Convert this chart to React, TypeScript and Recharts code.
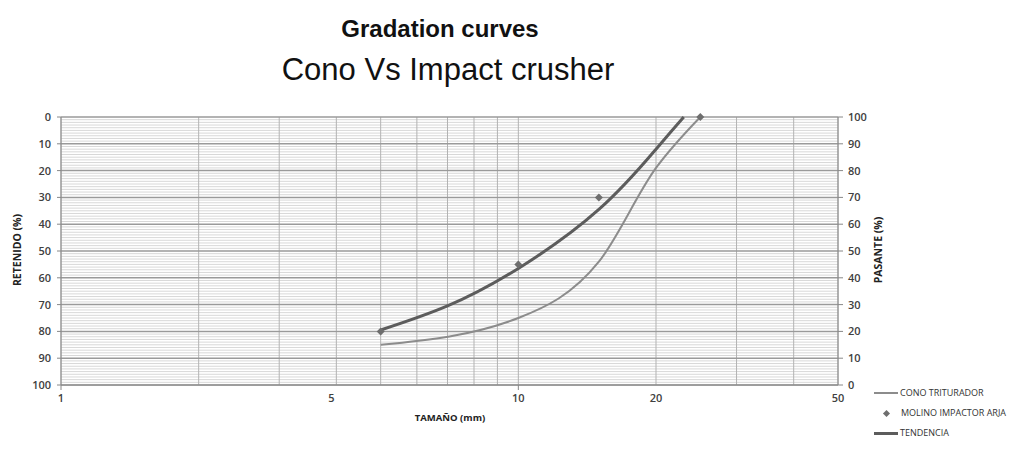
import React from "react";
import {
  ComposedChart,
  Line,
  XAxis,
  YAxis,
  ReferenceLine,
} from "recharts";

// sieve sizes (mm) vs retained (%)
const conoSizes = [5, 10, 15, 20, 25];
const conoRetenido = [85, 75, 54, 19, 0];

const molinoSizes = [5, 10, 15, 25];
const molinoRetenido = [80, 55, 30, 0];

const tendenciaSizes = [5, 7, 10, 15, 20, 23];
const tendenciaRetenido = [79.5, 70.5, 56.5, 34.5, 12, 0];

const xTickValues = [1, 3.9, 10, 20, 50];
const xTickLabels = ["1", "5", "10", "20", "50"];
const xTickMarks = [1, 10];
const xGrid = [1, 2, 3, 4, 5, 6, 7, 8, 9, 10, 20, 30, 40, 50];
const yMajor = [0, 10, 20, 30, 40, 50, 60, 70, 80, 90, 100];
const yMinor = Array.from({ length: 101 }, (_, i) => i).filter((v) => v % 10 !== 0);

const toRows = (xs: number[], ys: number[]) =>
  xs.map((size, i) => ({ size, ret: ys[i] }));

const conoData = toRows(conoSizes, conoRetenido);
const molinoData = toRows(molinoSizes, molinoRetenido);
const tendenciaData = toRows(tendenciaSizes, tendenciaRetenido);

const font = "'Open Sans', 'Liberation Sans', sans-serif";

const XTick = (props: any) => {
  const { x, y, payload } = props;
  const idx = xTickValues.indexOf(payload.value);
  const label = idx >= 0 ? xTickLabels[idx] : "";
  return (
    <g>
      {xTickMarks.includes(payload.value) && (
        <line x1={x} x2={x} y1={y - 8} y2={y - 3} stroke="#888" />
      )}
      <text
        x={x}
        y={y + 9}
        textAnchor="middle"
        fontFamily={font}
        fontSize={11}
        fontWeight={600}
        fill="#404040"
      >
        {label}
      </text>
    </g>
  );
};

const Diamond = (props: any) => {
  const { cx, cy } = props;
  if (cx == null || cy == null) return null;
  const s = 4;
  return (
    <path
      d={`M${cx},${cy - s} L${cx + s},${cy} L${cx},${cy + s} L${cx - s},${cy} Z`}
      fill="#6e6e6e"
    />
  );
};

const axisTitle: React.CSSProperties = {
  transform: "rotate(-90deg)",
  whiteSpace: "nowrap",
  fontFamily: font,
  fontSize: 10.5,
  fontWeight: 700,
  color: "#222",
  lineHeight: "0px",
};

export default function App() {
  const tickStyle = { fontFamily: font, fontSize: 11, fontWeight: 600, fill: "#404040" };
  return (
    <div
      style={{
        position: "absolute",
        left: 0,
        top: 0,
        width: 1024,
        height: 467,
        background: "#fff",
        fontFamily: "'Liberation Sans', Arial, sans-serif",
      }}
    >
      <div
        style={{
          position: "absolute",
          left: 0,
          width: 880,
          top: 17,
          textAlign: "center",
          fontSize: 24,
          lineHeight: 1,
          fontWeight: 700,
          color: "#111",
        }}
      >
        Gradation curves
      </div>
      <div
        style={{
          position: "absolute",
          left: 0,
          width: 896,
          top: 54,
          textAlign: "center",
          fontSize: 31,
          lineHeight: 1,
          color: "#111",
        }}
      >
        Cono Vs Impact crusher
      </div>

      <ComposedChart
        width={1024}
        height={467}
        margin={{ top: 117, right: 146, bottom: 52, left: 21 }}
      >
        <XAxis
          dataKey="size"
          type="number"
          scale="log"
          domain={[1, 50]}
          ticks={xTickValues}
          interval={0}
          allowDataOverflow
          height={30}
          stroke="#888"
          tickLine={false}
          tick={<XTick />}
        />
        <YAxis
          yAxisId="ret"
          dataKey="ret"
          type="number"
          domain={[0, 100]}
          reversed
          ticks={yMajor}
          interval={0}
          width={40}
          stroke="#888"
          tickSize={4}
          tickMargin={6}
          tick={tickStyle}
        />
        <YAxis
          yAxisId="pas"
          orientation="right"
          dataKey="ret"
          type="number"
          domain={[0, 100]}
          allowDataOverflow
          ticks={yMajor}
          interval={0}
          width={40}
          stroke="#888"
          tickSize={5}
          tickMargin={5}
          tick={tickStyle}
        />

        {yMinor.map((v) => (
          <ReferenceLine key={"mn" + v} yAxisId="ret" y={v} stroke="#d8d8d8" strokeWidth={1} />
        ))}
        {xGrid.map((v) => (
          <ReferenceLine key={"vx" + v} yAxisId="ret" x={v} stroke="#b3b3b3" strokeWidth={1} />
        ))}
        {yMajor.map((v) => (
          <ReferenceLine key={"mj" + v} yAxisId="ret" y={v} stroke="#9a9a9a" strokeWidth={1.5} />
        ))}

        {/* keeps the right PASANTE axis alive; draws nothing */}
        <Line
          yAxisId="pas"
          data={conoData}
          dataKey="ret"
          stroke="none"
          dot={false}
          activeDot={false}
          legendType="none"
          isAnimationActive={false}
        />
        <Line
          yAxisId="ret"
          data={conoData}
          dataKey="ret"
          type="monotone"
          stroke="#8c8c8c"
          strokeWidth={2}
          dot={false}
          activeDot={false}
          isAnimationActive={false}
        />
        <Line
          yAxisId="ret"
          data={tendenciaData}
          dataKey="ret"
          type="natural"
          stroke="#5c5c5c"
          strokeWidth={3}
          dot={false}
          activeDot={false}
          isAnimationActive={false}
        />
        <Line
          yAxisId="ret"
          data={molinoData}
          dataKey="ret"
          stroke="none"
          strokeWidth={0}
          dot={<Diamond />}
          activeDot={false}
          isAnimationActive={false}
        />
      </ComposedChart>

      <div
        style={{
          position: "absolute",
          left: 0,
          top: 250,
          width: 34,
          height: 0,
          display: "flex",
          justifyContent: "center",
        }}
      >
        <div style={axisTitle}>RETENIDO (%)</div>
      </div>
      <div
        style={{
          position: "absolute",
          left: 861,
          top: 250,
          width: 34,
          height: 0,
          display: "flex",
          justifyContent: "center",
        }}
      >
        <div style={axisTitle}>PASANTE (%)</div>
      </div>
      <div
        style={{
          position: "absolute",
          left: 350,
          width: 200,
          top: 412,
          textAlign: "center",
          fontFamily: font,
          fontSize: 9.5,
          fontWeight: 700,
          color: "#222",
          lineHeight: "12px",
        }}
      >
        TAMAÑO (mm)
      </div>

      <div
        style={{
          position: "absolute",
          left: 874,
          top: 386,
          fontFamily: font,
          fontSize: 9,
          color: "#333",
          lineHeight: "12px",
        }}
      >
        <div style={{ display: "flex", alignItems: "center", height: 14 }}>
          <span style={{ width: 24, height: 2, background: "#8c8c8c", display: "inline-block" }} />
          <span style={{ marginLeft: 2 }}>CONO TRITURADOR</span>
        </div>
        <div style={{ display: "flex", alignItems: "center", height: 26 }}>
          <span style={{ width: 24, display: "inline-flex", justifyContent: "center" }}>
            <span
              style={{
                width: 5,
                height: 5,
                background: "#6e6e6e",
                transform: "rotate(45deg)",
                display: "inline-block",
              }}
            />
          </span>
          <span style={{ marginLeft: 3 }}>MOLINO IMPACTOR ARJA</span>
        </div>
        <div style={{ display: "flex", alignItems: "center", height: 14 }}>
          <span style={{ width: 24, height: 3, background: "#5c5c5c", display: "inline-block" }} />
          <span style={{ marginLeft: 2 }}>TENDENCIA</span>
        </div>
      </div>
    </div>
  );
}
